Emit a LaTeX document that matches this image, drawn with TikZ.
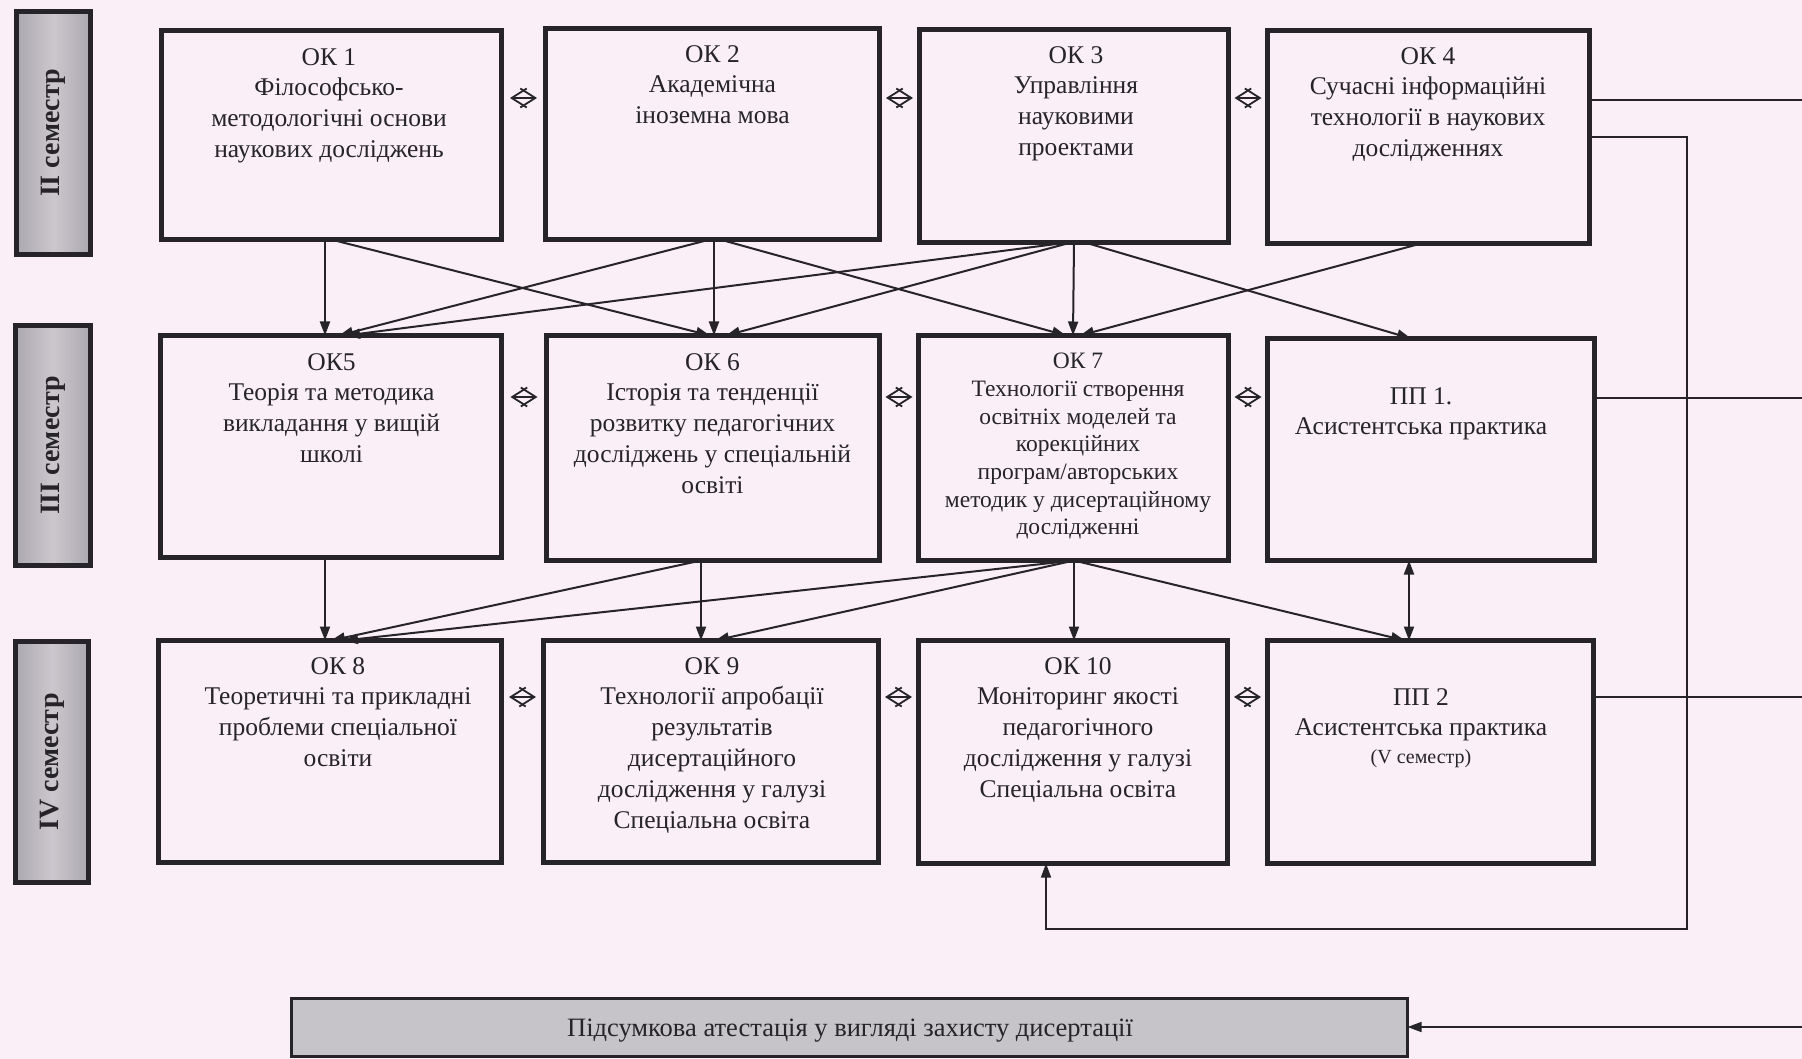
\documentclass[tikz,border=0pt]{standalone}
\usepackage{fontspec}
\setmainfont{Liberation Serif}
\usetikzlibrary{arrows.meta,calc}
\definecolor{bgc}{RGB}{250,239,247}
\definecolor{ink}{RGB}{38,36,40}
\definecolor{semc}{RGB}{172,168,175}
\definecolor{semm}{RGB}{203,199,205}
\definecolor{finc}{RGB}{198,196,201}
\newcommand\mkbox[6][box]{\node[#1, minimum width={#5-#3-5}, minimum height={#6-#4-5}] (#2) at ({(#3+#5)/2},{(#4+#6)/2}) {};}
\begin{document}
\begin{tikzpicture}[x=1pt,y=-1pt,
 box/.style={draw=ink, line width=5pt, fill=bgc, inner sep=0pt, outer sep=0pt, rectangle},
 sem/.style={draw=ink, line width=5pt, left color=semc, right color=semc, middle color=semm, inner sep=0pt, outer sep=0pt, rectangle},
 txt/.style={anchor=north, inner sep=0pt, align=center, text=ink, font=\fontsize{25.5}{30.8}\selectfont},
 smalltxt/.style={anchor=north, inner sep=0pt, align=center, text=ink, font=\fontsize{23.5}{27.7}\selectfont},
 semtxt/.style={rotate=90, inner sep=0pt, text=ink, font=\fontsize{28}{32}\selectfont\bfseries},
 arr/.style={draw=ink, line width=2pt, -{Triangle[length=14pt,width=10pt]}},
 dblarr/.style={draw=ink, line width=2pt, {Triangle[length=14pt,width=10pt]}-{Triangle[length=14pt,width=10pt]}},
 dia/.style={draw=ink, line width=1.8pt, {Straight Barb[length=15pt,width=19pt]}-{Straight Barb[length=15pt,width=19pt]}},
 lin/.style={draw=ink, line width=1.6pt},
 linarr/.style={draw=ink, line width=1.6pt, -{Triangle[length=14pt,width=10pt]}},
]
\useasboundingbox[fill=bgc] (0,0) rectangle (1802,1059);

% semester labels
\mkbox[sem]{s2}{14}{9}{93}{257}
\mkbox[sem]{s3}{13}{323}{93}{568}
\mkbox[sem]{s4}{13}{639}{91}{885}
\node[semtxt] (s2t) at (s2.center) {II семестр};
\node[semtxt] (s3t) at (s3.center) {III семестр};
\node[semtxt] (s4t) at (s4.center) {IV семестр};

% row 1
\mkbox{ok1}{159}{28}{504}{242}
\mkbox{ok2}{543}{26}{882}{242}
\mkbox{ok3}{917}{27}{1231}{245}
\mkbox{ok4}{1265}{28}{1592}{246}
% row 2
\mkbox{ok5}{158}{333}{504}{560}
\mkbox{ok6}{544}{333}{882}{563}
\mkbox{ok7}{916}{333}{1231}{563}
\mkbox{pp1}{1265}{336}{1597}{563}
% row 3
\mkbox{ok8}{156}{638}{504}{865}
\mkbox{ok9}{541}{638}{881}{865}
\mkbox{ok10}{916}{638}{1230}{866}
\mkbox{pp2}{1265}{638}{1596}{866}
% final
\node[draw=ink, line width=2.5pt, fill=finc, inner sep=0pt, outer sep=0pt, minimum width=1116, minimum height=58] (fin) at (849.5,1027.5) {};

% texts
\node[txt] (ok1t) at (329,48) {ОК 1\\Філософсько-\\методологічні основи\\наукових досліджень};
\node[txt] (ok2t) at (712.5,45) {ОК 2\\Академічна\\іноземна мова};
\node[txt] (ok3t) at (1076,46) {ОК 3\\Управління\\науковими\\проектами};
\node[txt] (ok4t) at (1428,47) {ОК 4\\Сучасні інформаційні\\технології в наукових\\дослідженнях};
\node[txt] (ok5t) at (331.5,353) {ОК5\\Теорія та методика\\викладання у вищій\\школі};
\node[txt] (ok6t) at (712.5,353) {ОК 6\\Історія та тенденції\\розвитку педагогічних\\досліджень у спеціальній\\освіті};
\node[smalltxt] (ok7t) at (1078,353) {ОК 7\\Технології створення\\освітніх моделей та\\корекційних\\програм/авторських\\методик у дисертаційному\\дослідженні};
\node[txt] (pp1t) at (1421,387) {ПП 1.\\Асистентська практика};
\node[txt] (ok8t) at (338,657) {ОК 8\\Теоретичні та прикладні\\проблеми спеціальної\\освіти};
\node[txt] (ok9t) at (712,657) {ОК 9\\Технології апробації\\результатів\\дисертаційного\\дослідження у галузі\\Спеціальна освіта};
\node[txt] (ok10t) at (1078,657) {ОК 10\\Моніторинг якості\\педагогічного\\дослідження у галузі\\Спеціальна освіта};
\node[txt] (pp2t) at (1421,688) {ПП 2\\Асистентська практика\\[-3pt]{\fontsize{20}{24}\selectfont (V семестр)}};
\node[anchor=base, inner sep=0pt, text=ink, font=\fontsize{26.5}{30}\selectfont] (fint) at (850,1036) {Підсумкова атестація у вигляді захисту дисертації};

% diamonds (centred in the gaps)
\foreach \a/\b/\yy [count=\i] in {ok1/ok2/98, ok2/ok3/98, ok3/ok4/98, ok5/ok6/397, ok6/ok7/397, ok7/pp1/397, ok8/ok9/697, ok9/ok10/697, ok10/pp2/697}{
  \path (\a.east |- 0,\yy) -- coordinate[midway] (dm\i) (\b.west |- 0,\yy);
  \draw[dia] ([xshift=-13.5pt]dm\i) -- ([xshift=13.5pt]dm\i);
}

% row1 -> row2
\draw[arr] (ok1.south -| 325,0) -- (ok5.north -| 325,0);
\draw[arr] (ok1.south -| 331,0) -- (ok6.north -| 710,0);
\draw[arr] (ok2.south -| 710,0) -- (ok5.north -| 339,0);
\draw[arr] (ok2.south -| 714,0) -- (ok6.north -| 714,0);
\draw[arr] (ok2.south -| 720,0) -- (ok7.north -| 1066,0);
\draw[arr] (ok3.south -| 1068,0) -- (ok5.north -| 346,0);
\draw[arr] (ok3.south -| 1071,0) -- (ok6.north -| 726,0);
\draw[arr] (ok3.south -| 1074,0) -- (ok7.north -| 1073,0);
\draw[arr] (ok3.south -| 1085,0) -- (pp1.north -| 1411,0);
\draw[arr] (ok4.south -| 1421,0) -- (ok7.north -| 1080,0);
% row2 -> row3
\draw[arr] (ok5.south -| 325,0) -- (ok8.north -| 325,0);
\draw[arr] (ok6.south -| 701,0) -- (ok8.north -| 331,0);
\draw[arr] (ok6.south -| 701,0) -- (ok9.north -| 701,0);
\draw[arr] (ok7.south -| 1074,0) -- (ok8.north -| 344,0);
\draw[arr] (ok7.south -| 1074,0) -- (ok9.north -| 715,0);
\draw[arr] (ok7.south -| 1074,0) -- (ok10.north -| 1074,0);
\draw[arr] (ok7.south -| 1074,0) -- (pp2.north -| 1405,0);
\draw[dblarr] (pp1.south -| 1409,0) -- (pp2.north -| 1409,0);

% right side
\coordinate (e1) at (1802,100);
\coordinate (e2) at (1802,398);
\coordinate (e3) at (1802,697);
\coordinate (e4) at (1802,1027);
\coordinate (f1) at (1687,137);
\coordinate (f2) at (1687,929);
\coordinate (f3) at (1046,929);
\draw[lin] (ok4.east |- e1) -- (e1);
\draw[lin] (pp1.east |- e2) -- (e2);
\draw[lin] (pp2.east |- e3) -- (e3);
\draw[linarr] (ok4.east |- f1) -- (f1) -- (f2) -- (f3) -- (ok10.south -| f3);
\draw[linarr] (e4) -- (fin.east |- e4);
\end{tikzpicture}
\end{document}
